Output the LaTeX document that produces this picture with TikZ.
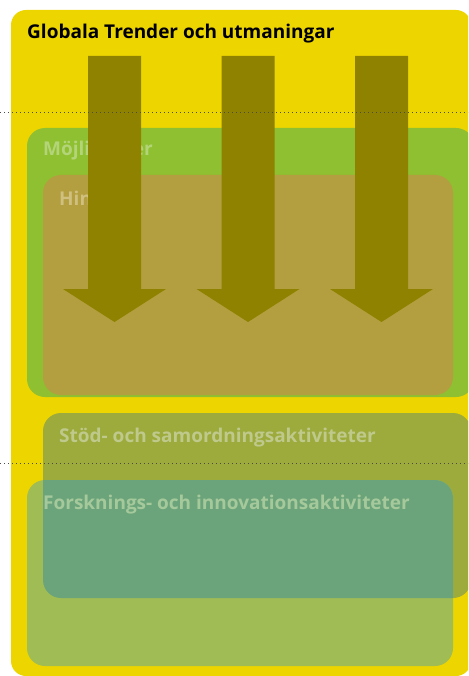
\documentclass[tikz,border=0pt]{standalone}
\usepackage{fontspec}
\setmainfont{Open Sans}
\definecolor{trendYellow}{HTML}{EDD500}
\definecolor{mojGreen}{HTML}{8FC031}
\definecolor{hinderTan}{HTML}{B39F3F}
\definecolor{arrowOlive}{HTML}{8E8200}
\definecolor{stodOlive}{HTML}{9CAB3C}
\definecolor{forskGreen}{HTML}{A0BC55}
\definecolor{forskTeal}{HTML}{6BA47A}
\definecolor{mojText}{HTML}{B4D47A}
\definecolor{hinderText}{HTML}{CFC080}
\definecolor{stodText}{HTML}{C0C98C}
\definecolor{forskText}{HTML}{A6C99C}

\begin{document}
\begin{tikzpicture}[x=1pt, y=-1pt,
    every node/.style={font=\bfseries\fontsize{19}{21}\selectfont, inner sep=0pt, anchor=base west},
    box/.style={rounded corners=18pt},
    guide/.style={gray!60!black, line width=0.8pt, dash pattern=on 0.8pt off 3.2pt}]
        \useasboundingbox (0,0) rectangle (468,676);
        \clip (0,0) rectangle (468,676);
        \fill[trendYellow, rounded corners=15pt] (11,10) rectangle (471,676);
        \node (trend) at (27,39) {Globala Trender och utmaningar};
        % upper boxes
        \fill[mojGreen, box] (27,128) rectangle (474,397);
        \node[mojText] (moj) at (43,156) {Möjligheter};
        \fill[hinderTan, box] (43,175) rectangle (453,395);
        \node[hinderText] (hinder) at (59,205) {Hinder};
        % lower boxes
        \fill[stodOlive, box] (43,413) rectangle (471,598);
        \fill[forskGreen, box] (27,480) rectangle (453,666);
        \begin{scope}
          \clip[box] (43,413) rectangle (471,598);
          \fill[forskTeal, box] (27,480) rectangle (453,666);
        \end{scope}
        \node[stodText] (stod) at (59,442) {Stöd- och samordningsaktiviteter};
        \node[forskText] (forsk) at (43,509) {Forsknings- och innovationsaktiviteter};
        % trend arrows
        \foreach \x in {114.5,248,381.5}
          \fill[arrowOlive] (\x-26.5,56) -- (\x+26.5,56) -- (\x+26.5,289) -- (\x+51.5,289)
            -- (\x,322) -- (\x-51.5,289) -- (\x-26.5,289) -- cycle;
        \draw[guide] (0,112) -- (468,112);
        \draw[guide] (0,463) -- (468,463);
      \end{tikzpicture}
\end{document}
